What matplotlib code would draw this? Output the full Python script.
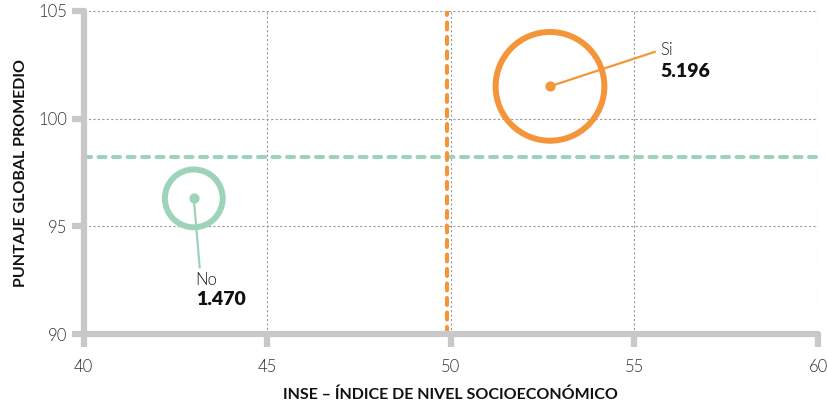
import matplotlib
matplotlib.use("Agg")
import matplotlib.pyplot as plt

# data
grupos = ["No", "Si"]
inse = [43.0, 52.7]
puntaje = [96.3, 101.5]
conteo = [1470, 5196]
etiquetas = ["1.470", "5.196"]
media_puntaje = 98.2
media_inse = 49.9

colores = ["#9dd3b9", "#f5953a"]
gris = "#c8c8c8"

plt.rcParams['font.family'] = ['Lato', 'DejaVu Sans']

fig = plt.figure(figsize=(8.28, 4.05), dpi=100)
ax = fig.add_axes([0.101, 0.175, 0.887, 0.798])

ax.set_xlim(40, 60)
ax.set_ylim(90, 105)
ax.set_xticks([40, 45, 50, 55, 60])
ax.set_yticks([90, 95, 100, 105])

# dotted grid
ax.grid(True, color="#9a9a9a", linestyle=(0, (2, 2)), linewidth=0.8, zorder=0)

# reference lines
dash = (0, (1.75, 1.85))
ax.axhline(media_puntaje, color=colores[0], linestyle=dash, linewidth=2.9,
           zorder=2, dash_capstyle="round")
ax.axvline(media_inse, color=colores[1], linestyle=dash, linewidth=2.9,
           zorder=2, dash_capstyle="round")

# bubbles, area proportional to count
for x, y, n, c in zip(inse, puntaje, conteo, colores):
    ax.scatter([x], [y], s=n * 1.18, facecolors="none", edgecolors=c, linewidths=4.3, zorder=3)
    ax.scatter([x], [y], s=40, color=c, zorder=4)

# leader lines and labels
ax.plot([inse[0], 43.16], [puntaje[0], 93.1], color=colores[0], lw=1.6, zorder=4)
ax.text(43.05, 92.5, grupos[0], fontsize=12, fontweight=300, color="#222", va="center")
ax.text(43.05, 91.6, etiquetas[0], fontsize=14, fontweight="heavy", color="#111", va="center")

ax.plot([inse[1], 55.55], [puntaje[1], 103.1], color=colores[1], lw=1.6, zorder=4)
ax.text(55.7, 103.2, grupos[1], fontsize=12, fontweight=300, color="#222", va="center")
ax.text(55.7, 102.2, etiquetas[1], fontsize=14, fontweight="heavy", color="#111", va="center")

# thick grey axes
for side in ["top", "right"]:
    ax.spines[side].set_visible(False)
for side in ["left", "bottom"]:
    ax.spines[side].set_color(gris)
    ax.spines[side].set_linewidth(4.5)
    ax.spines[side].set_capstyle("round")
ax.tick_params(axis="both", length=9, width=4.5, color=gris, labelsize=12, labelcolor="#333")
ax.tick_params(axis="x", pad=9)
ax.tick_params(axis="y", pad=3)
for lab in ax.get_xticklabels() + ax.get_yticklabels():
    lab.set_fontweight(300)

ax.set_xlabel("INSE – ÍNDICE DE NIVEL SOCIOECONÓMICO", fontsize=11.5, fontweight="bold", color="#111", labelpad=9)
ax.set_ylabel("PUNTAJE GLOBAL PROMEDIO", fontsize=11.5, fontweight="bold", color="#111", labelpad=7)

fig.savefig("out.png", dpi=100)
